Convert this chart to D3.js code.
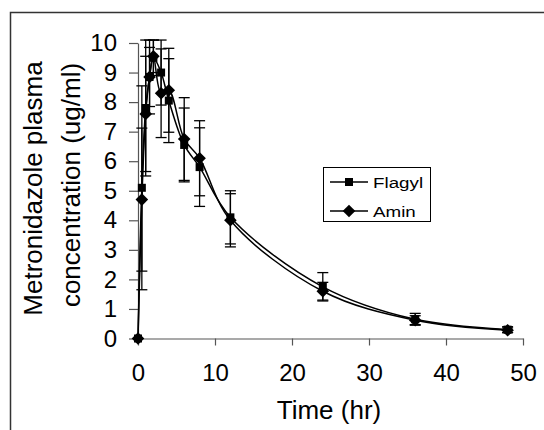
<!DOCTYPE html>
<html>
<head>
<meta charset="utf-8">
<script src="https://cdn.jsdelivr.net/npm/d3@7"></script>
<style>
html,body{margin:0;padding:0;background:#fff;}
svg{display:block;font-family:"Liberation Sans",Arial,sans-serif;}
</style>
</head>
<body>
<svg id="chart" width="544" height="430"></svg>
<script>
const times = [0, 0.5, 1, 1.5, 2, 3, 4, 6, 8, 12, 24, 36, 48];
const flagylMean = [0, 5.1, 7.8, 8.85, 9.5, 9.0, 8.05, 6.55, 5.8, 4.1, 1.75, 0.65, 0.3];
const flagylSD   = [0, 3.45, 2.3, 1.25, 0.6, 1.1, 1.42, 1.25, 1.33, 0.9, 0.48, 0.2, 0.1];
const aminMean   = [0, 4.7, 7.6, 8.85, 9.55, 8.3, 8.4, 6.75, 6.1, 4.0, 1.6, 0.62, 0.28];
const aminSD     = [0, 2.42, 1.95, 1.0, 0.55, 1.5, 1.42, 1.4, 1.27, 0.9, 0.3, 0.15, 0.08];
const seriesNames = ["Flagyl", "Amin"];
const xTicks = [0, 10, 20, 30, 40, 50];
const yTicks = [0, 1, 2, 3, 4, 5, 6, 7, 8, 9, 10];
const xTitle = "Time (hr)";
const yTitle1 = "Metronidazole plasma";
const yTitle2 = "concentration (ug/ml)";

const svg = d3.select("#chart");

// outer frame (extends past right/bottom edges)
svg.append("rect").attr("x", 10.5).attr("y", 12.5).attr("width", 560).attr("height", 440)
  .attr("fill", "#fff").attr("stroke", "#333").attr("stroke-width", 1.5);

const x = d3.scaleLinear().domain([0, 50]).range([138, 523]);
const y = d3.scaleLinear().domain([0, 10]).range([338.5, 43]);

// axes
const yAxis = d3.axisLeft(y).tickValues(yTicks).tickSize(9).tickSizeOuter(0).tickPadding(12)
  .tickFormat(d3.format("d"));
const xAxis = d3.axisBottom(x).tickValues(xTicks).tickSize(7).tickSizeOuter(0).tickPadding(18)
  .tickFormat(d3.format("d"));

const gy = svg.append("g").attr("transform", "translate(138,0)").call(yAxis);
const gx = svg.append("g").attr("transform", "translate(0,338.5)").call(xAxis);
[gx, gy].forEach(g => {
  g.select(".domain").attr("stroke", "#555").attr("stroke-width", 1.2);
  g.selectAll(".tick line").attr("stroke", "#555").attr("stroke-width", 1.2);
  g.selectAll(".tick text").attr("fill", "#000").attr("font-size", 24)
    .attr("font-family", "'Liberation Sans', Arial, sans-serif");
});

// titles
svg.append("text").attr("x", 329).attr("y", 418.5).attr("text-anchor", "middle")
  .attr("font-size", 26).text(xTitle);
svg.append("text").attr("transform", "translate(42,188.5) rotate(-90)").attr("text-anchor", "middle")
  .attr("font-size", 26).text(yTitle1);
svg.append("text").attr("transform", "translate(80,185) rotate(-90)").attr("text-anchor", "middle")
  .attr("font-size", 26).text(yTitle2);

const series = [
  {name: seriesNames[0], mean: flagylMean, sd: flagylSD, shape: "square"},
  {name: seriesNames[1], mean: aminMean, sd: aminSD, shape: "diamond"}
];

const capW = 5.5;
// error bars
series.forEach(s => {
  const g = svg.append("g").attr("stroke", "#000").attr("stroke-width", 1.3);
  times.forEach((t, i) => {
    if (s.sd[i] <= 0) return;
    const cx = x(t), y1 = y(s.mean[i] + s.sd[i]), y0 = y(s.mean[i] - s.sd[i]);
    g.append("line").attr("x1", cx).attr("x2", cx).attr("y1", y1).attr("y2", y0);
    g.append("line").attr("x1", cx - capW).attr("x2", cx + capW).attr("y1", y1).attr("y2", y1);
    g.append("line").attr("x1", cx - capW).attr("x2", cx + capW).attr("y1", y0).attr("y2", y0);
  });
});

const line = d3.line().x(d => x(d[0])).y(d => y(d[1])).curve(d3.curveCatmullRom.alpha(0.5));

function marker(g, shape, cx, cy) {
  if (shape === "square") {
    g.append("rect").attr("x", cx - 4).attr("y", cy - 4).attr("width", 8).attr("height", 8).attr("fill", "#000");
  } else {
    g.append("path").attr("d", `M${cx},${cy - 6.3}L${cx + 6.3},${cy}L${cx},${cy + 6.3}L${cx - 6.3},${cy}Z`).attr("fill", "#000");
  }
}

series.forEach(s => {
  const pts = times.map((t, i) => [t, s.mean[i]]);
  svg.append("path").datum(pts).attr("d", line).attr("fill", "none")
    .attr("stroke", "#000").attr("stroke-width", 1.5);
  const g = svg.append("g");
  pts.forEach(p => marker(g, s.shape, x(p[0]), y(p[1])));
});

// legend
const lg = svg.append("g");
lg.append("rect").attr("x", 323.5).attr("y", 167.5).attr("width", 107).attr("height", 54)
  .attr("fill", "#fff").attr("stroke", "#000").attr("stroke-width", 1);
const rowY = [182, 211];
series.forEach((s, i) => {
  lg.append("line").attr("x1", 330).attr("x2", 368).attr("y1", rowY[i]).attr("y2", rowY[i])
    .attr("stroke", "#000").attr("stroke-width", 1.5);
  marker(lg, s.shape, 349, rowY[i]);
  lg.append("text").attr("transform", `translate(373,${rowY[i] + 5.5}) scale(1.27,1)`)
    .attr("font-size", 14.8).text(s.name);
});
</script>
</body>
</html>
